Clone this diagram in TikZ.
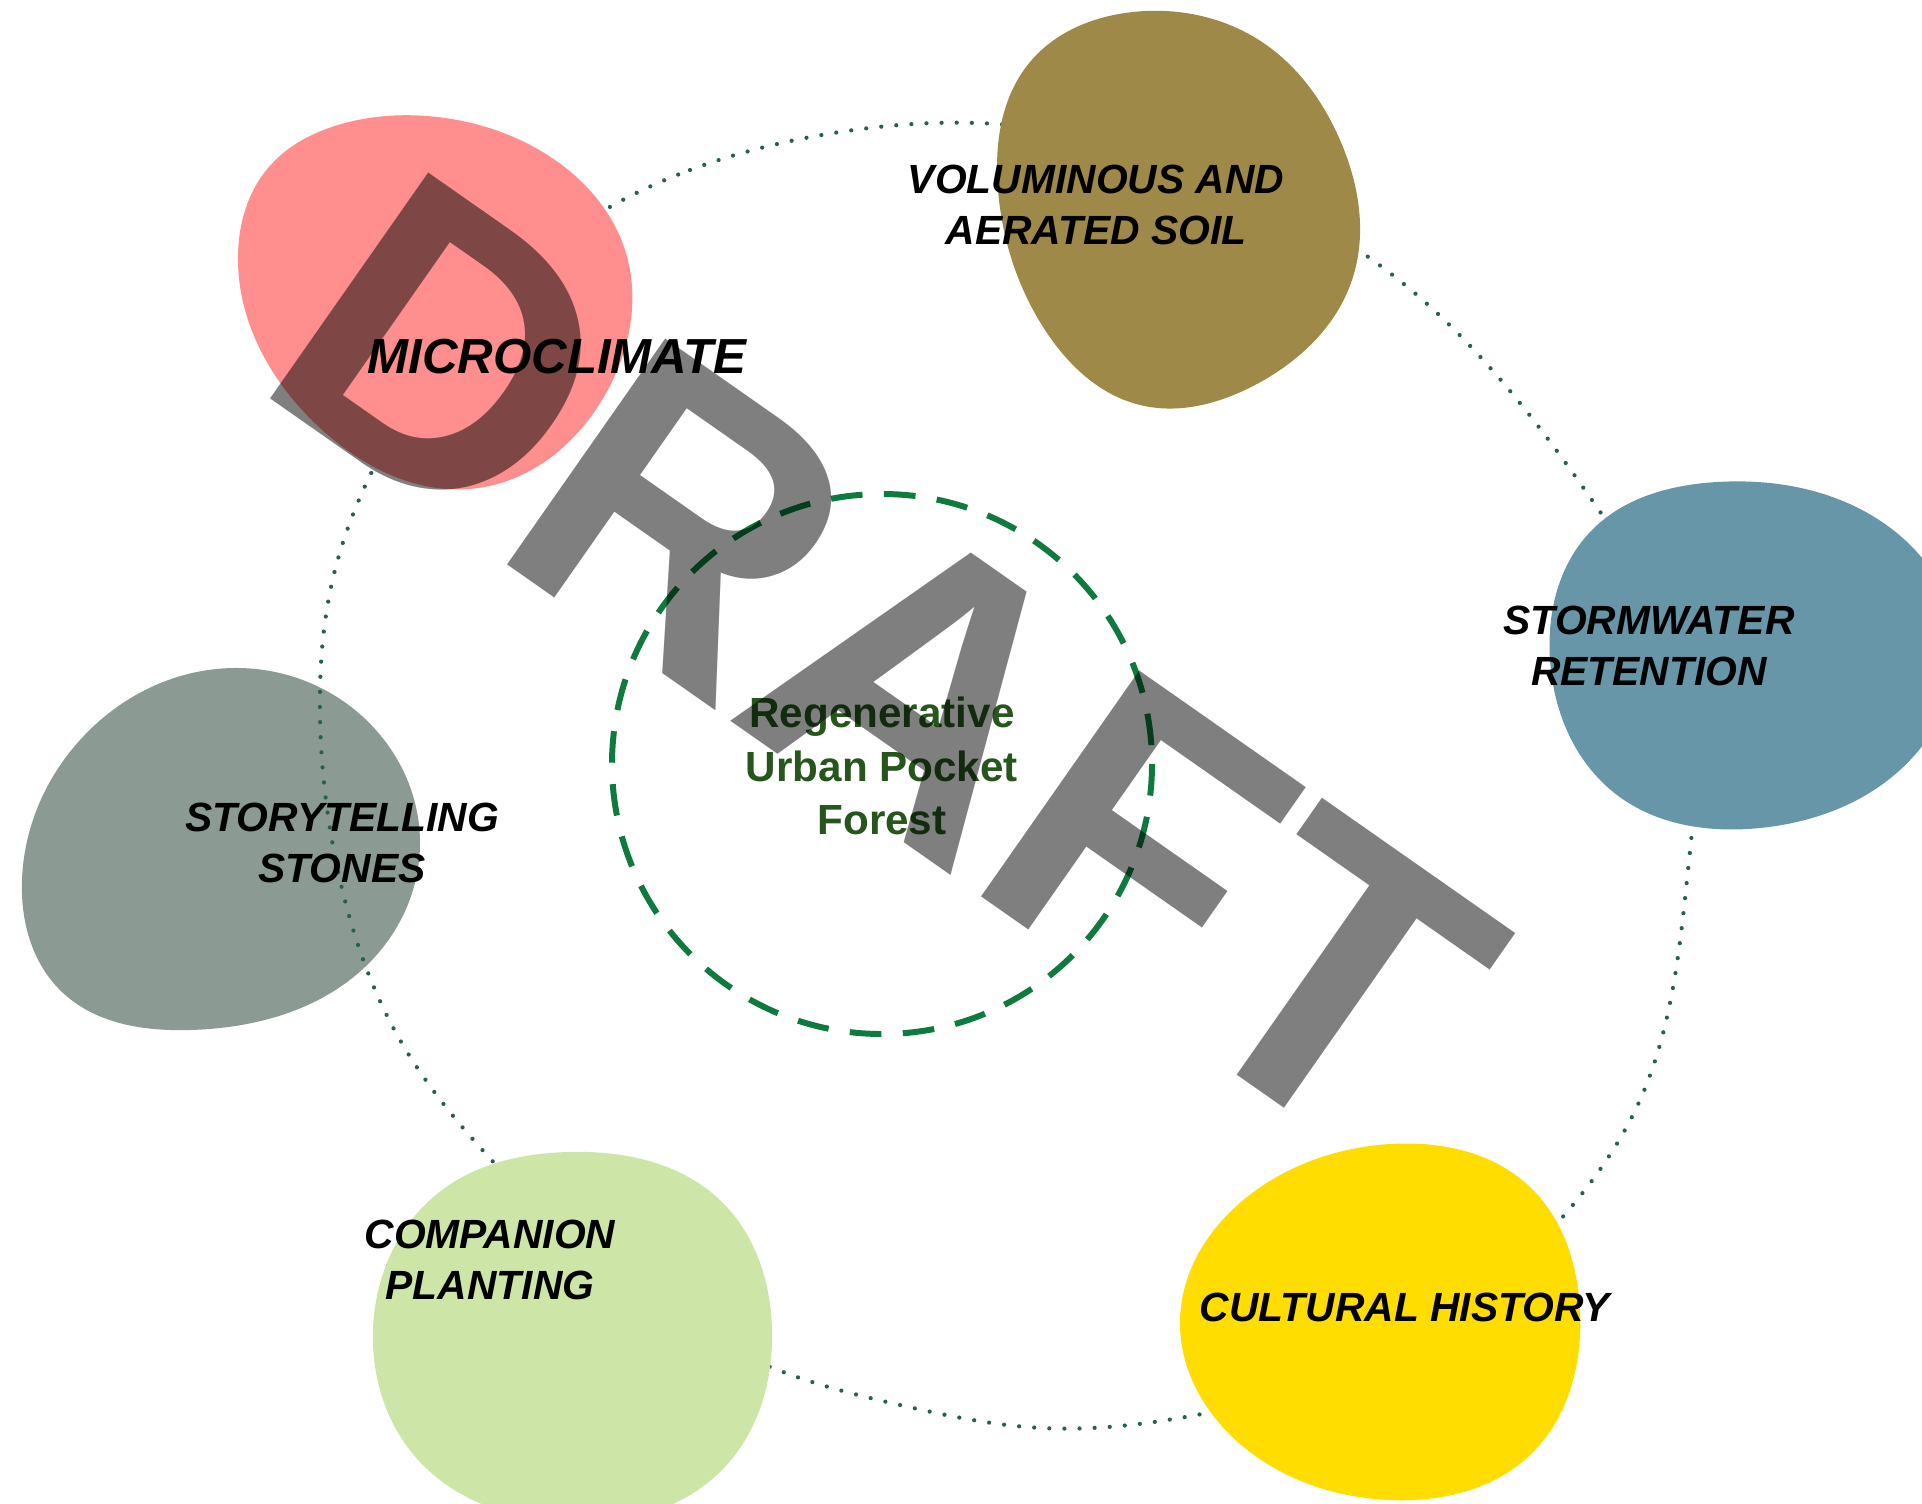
\documentclass[tikz,border=0pt]{standalone}
\usepackage{fontspec}
\setmainfont{Liberation Sans}
\usetikzlibrary{hobby}
\definecolor{pinkc}{RGB}{255,142,142}
\definecolor{olivec}{RGB}{158,137,72}
\definecolor{steelc}{RGB}{103,150,168}
\definecolor{stonec}{RGB}{139,154,147}
\definecolor{leafc}{RGB}{205,230,168}
\definecolor{yellowc}{RGB}{255,221,0}
\definecolor{ringc}{RGB}{40,95,85}
\definecolor{dashc}{RGB}{14,122,62}
\definecolor{forestc}{RGB}{38,86,28}
\begin{document}
\begin{tikzpicture}[x=0.01cm,y=-0.01cm,
  lbl/.style={font=\fontsize{11.6}{14.5}\selectfont\bfseries\itshape, align=center, text=black, inner sep=0pt},
  ringline/.style={draw=ringc, line width=1.2pt, line cap=round, dash pattern=on 0pt off 4.3pt},
  dashring/.style={draw=dashc, line width=1.7pt, dash pattern=on 9pt off 6.1pt},
  watermark/.style={font=\fontsize{114}{114}\selectfont\bfseries, text=black, text opacity=0.5, inner sep=0pt, rotate=-35, anchor=base west}]
\clip (0,0) rectangle (1922,1503);
\fill[white] (0,0) rectangle (1922,1503);

% storytelling stones blob (under the ring)
\fill[stonec] plot[closed hobby] coordinates {(233,668) (362,716) (420,843) (372,960) (190,1030) (62,992) (22,880) (80,740)};

% dotted ring
\draw[ringline] plot[closed hobby] coordinates {(690,170) (840,132) (997,124) (1200,170) (1390,273) (1594,503) (1690,700) (1688,870) (1640,1100) (1560,1220) (1400,1350) (1207,1413) (1042,1428) (900,1405) (797,1377) (620,1280) (498,1167) (400,1040) (340,880) (320,717) (335,570) (400,420) (500,290) (608,208)};

% other blobs
\fill[pinkc] plot[closed hobby] coordinates {(238,255) (268,168) (345,123) (445,118) (555,160) (625,250) (605,395) (478,488) (320,428)};
\fill[olivec] plot[closed hobby] coordinates {(1133,12) (1262,42) (1340,140) (1352,280) (1255,385) (1140,405) (1045,330) (998,190) (1030,62)};
\fill[steelc] plot[closed hobby] coordinates {(1717,482) (1862,510) (1955,630) (1900,770) (1760,828) (1617,795) (1550,660) (1592,530)};
\fill[leafc] plot[closed hobby] coordinates {(567,1152) (722,1202) (772,1330) (722,1470) (560,1522) (420,1462) (373,1330) (442,1190)};
\fill[yellowc] plot[closed hobby] coordinates {(1390,1144) (1530,1187) (1580,1310) (1530,1455) (1390,1500) (1250,1452) (1180,1320) (1262,1186)};

% central dashed circle
\draw[dashring] (882,764) circle[radius=270];

% labels
\node[lbl] (soil) at (1096,205) {VOLUMINOUS AND\\AERATED SOIL};
\node[lbl, font=\fontsize{14}{16}\selectfont\bfseries\itshape] (micro) at (557,357) {MICROCLIMATE};
\node[lbl] (storm) at (1649,646) {STORMWATER\\RETENTION};
\node[lbl] (stones) at (342,843) {STORYTELLING\\STONES};
\node[lbl] (companion) at (490,1260) {COMPANION\\PLANTING};
\node[lbl] (culture) at (1405,1307) {CULTURAL HISTORY};
\node[font=\fontsize{12}{15.3}\selectfont\bfseries, align=center, text=forestc, inner sep=0pt] (forest) at (882,766) {Regenerative\\Urban Pocket\\Forest};

% watermark
\node[watermark] (draft) at (248,383) {DRAFT};
\end{tikzpicture}
\end{document}
